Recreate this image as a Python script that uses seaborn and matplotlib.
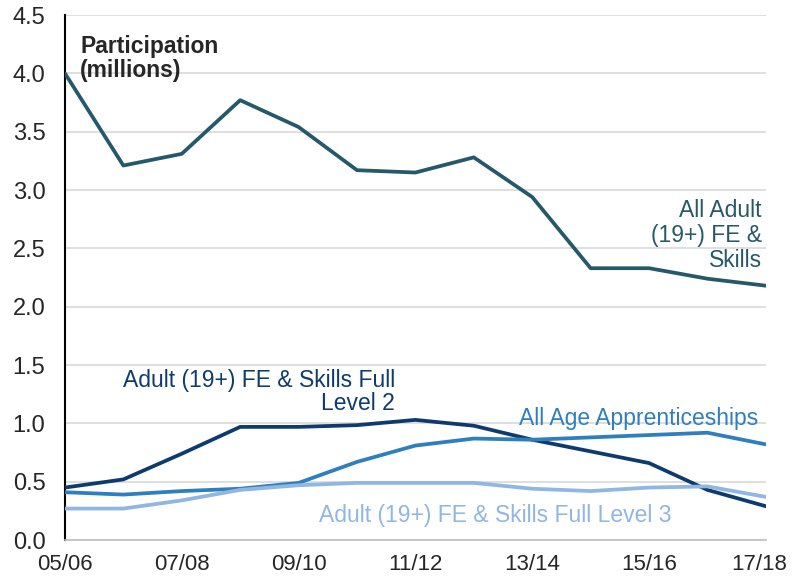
import matplotlib
matplotlib.use("Agg")
import matplotlib.pyplot as plt
import pandas as pd
import seaborn as sns

# Academic years on the x axis (every other one is labelled)
years = ["05/06", "06/07", "07/08", "08/09", "09/10", "10/11", "11/12",
         "12/13", "13/14", "14/15", "15/16", "16/17", "17/18"]

# Participation in millions
all_adult = [4.00, 3.21, 3.31, 3.77, 3.54, 3.17, 3.15, 3.28, 2.94, 2.33, 2.33, 2.24, 2.18]
full_level2 = [0.45, 0.52, 0.74, 0.97, 0.97, 0.985, 1.03, 0.98, 0.86, 0.76, 0.66, 0.43, 0.29]
apprenticeships = [0.41, 0.39, 0.42, 0.44, 0.49, 0.67, 0.81, 0.87, 0.86, 0.88, 0.90, 0.92, 0.82]
full_level3 = [0.27, 0.27, 0.34, 0.43, 0.47, 0.49, 0.49, 0.49, 0.44, 0.42, 0.45, 0.46, 0.37]

series = {
    "All Adult (19+) FE & Skills": all_adult,
    "Adult (19+) FE & Skills Full Level 2": full_level2,
    "All Age Apprenticeships": apprenticeships,
    "Adult (19+) FE & Skills Full Level 3": full_level3,
}
colors = {
    "All Adult (19+) FE & Skills": "#25596a",
    "Adult (19+) FE & Skills Full Level 2": "#0e3b6e",
    "All Age Apprenticeships": "#2f7fbf",
    "Adult (19+) FE & Skills Full Level 3": "#8fb6e4",
}

df = pd.DataFrame(
    [(i, name, v) for name, vals in series.items() for i, v in enumerate(vals)],
    columns=["x", "series", "value"],
)

sns.set_style("white")
plt.rcParams["font.family"] = ["Liberation Sans", "DejaVu Sans"]

fig = plt.figure(figsize=(7.92, 5.77), dpi=100)
ax = fig.add_axes([0.082, 0.064, 0.885, 0.91])

sns.lineplot(data=df, x="x", y="value", hue="series", palette=colors,
             linewidth=2.7, legend=False, ax=ax, zorder=3)

ax.set_xlim(0, len(years) - 1)
ax.set_ylim(0, 4.5)
ax.set_yticks([i * 0.5 for i in range(10)])
ax.set_yticklabels([f"{i * 0.5:.1f}" for i in range(10)], fontsize=17)
ax.set_xticks(range(len(years)))
# last label drawn separately so it can sit flush with the figure edge
ax.set_xticklabels([y if i % 2 == 0 and i < len(years) - 1 else ""
                    for i, y in enumerate(years)], fontsize=16)
ax.annotate(years[-1], xy=(len(years) - 1, 0), xytext=(-5, -10),
            textcoords="offset points", ha="center", va="top", fontsize=16,
            annotation_clip=False)
ax.set_xlabel("")
ax.set_ylabel("")

ax.grid(axis="y", color="#d9d9d9", linewidth=1.2, zorder=0)
ax.grid(axis="x", visible=False)
for side in ["top", "right"]:
    ax.spines[side].set_visible(False)
ax.spines["left"].set_color("black")
ax.spines["bottom"].set_color("#bfbfbf")
ax.spines["left"].set_linewidth(1.5)
ax.spines["bottom"].set_linewidth(1.2)
ax.tick_params(axis="y", direction="out", length=6, width=1.2, color="black", pad=8)
ax.tick_params(axis="x", direction="out", length=6, width=1.2, color="#bfbfbf", pad=4)

# Direct labels
ax.text(0.26, 4.33, "Participation\n(millions)", fontsize=16.5, fontweight="bold",
        va="top", ha="left", linespacing=1.05)
ax.text(11.93, 2.92, "All Adult\n(19+) FE &\nSkills", fontsize=16.5,
        color=colors["All Adult (19+) FE & Skills"], ha="right", va="top", linespacing=1.1)
ax.text(5.65, 1.47, "Adult (19+) FE & Skills Full\nLevel 2", fontsize=16.5,
        color=colors["Adult (19+) FE & Skills Full Level 2"], ha="right", va="top",
        linespacing=1.05, multialignment="right")
ax.text(11.87, 1.04, "All Age Apprenticeships", fontsize=16.5,
        color=colors["All Age Apprenticeships"], ha="right", va="center")
ax.text(10.39, 0.21, "Adult (19+) FE & Skills Full Level 3", fontsize=16.5,
        color=colors["Adult (19+) FE & Skills Full Level 3"], ha="right", va="center")

fig.savefig("out.png", dpi=100)
